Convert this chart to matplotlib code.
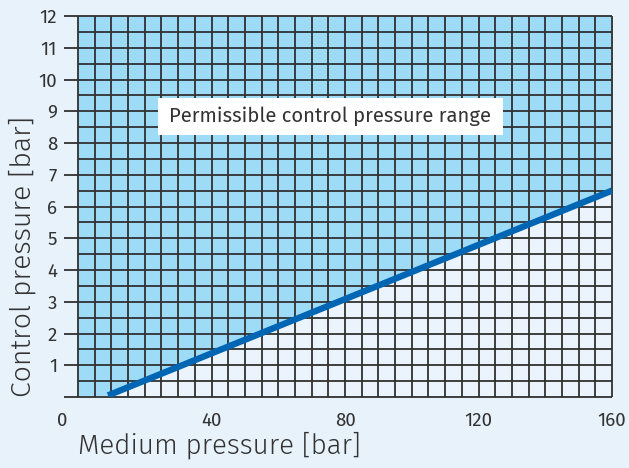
import numpy as np
import matplotlib
matplotlib.use('Agg')
import matplotlib.pyplot as plt
import matplotlib.transforms as mtrans
from matplotlib.patches import Rectangle

plt.rcParams['font.family'] = ['Fira Sans', 'DejaVu Sans']

##
## Data
##
medium_pressure = [9, 160]       # bar
control_pressure = [0.05, 6.5]   # bar
x_ticks = [0, 40, 80, 120, 160]
y_ticks = list(range(0, 13))
y_ticklabels = [''] + [str(v) for v in y_ticks[1:]]
x_max, y_max = 160, 12
x_step, y_step = 5, 0.5
range_label = 'Permissible control pressure range'

bg = '#e8f2fb'
light = '#ebf4fc'
blue_fill = '#9ddbf7'
line_blue = '#0066b3'
grid_col = '#303030'
text_col = '#333333'

fig = plt.figure(figsize=(6.29, 4.68), dpi=100, facecolor=bg)
ax = fig.add_axes([78/629, 71/468, 534/629, 381/468])
ax.set_facecolor(light)
ax.set_xlim(0, x_max)
ax.set_ylim(0, y_max)

# shaded permissible region above the limit line
xs = np.r_[0, medium_pressure]
ys = np.r_[control_pressure[0], control_pressure]
ax.fill_between(xs, ys, y_max, color=blue_fill, lw=0, zorder=1)

# fine grid
gx = np.arange(0, x_max + x_step/2, x_step)
gy = np.arange(0, y_max + y_step/2, y_step)
ax.vlines(gx, 0, y_max, color=grid_col, lw=1.3, zorder=2, clip_on=False)
ax.hlines(gy, 0, x_max, color=grid_col, lw=1.3, zorder=2, clip_on=False)

ax.plot(medium_pressure, control_pressure, color=line_blue, lw=4.6,
        solid_capstyle='butt', zorder=3)

for s in ax.spines.values():
    s.set_visible(False)

ax.set_yticks(y_ticks)
ax.set_yticklabels(y_ticklabels)
ax.set_xticks(x_ticks)
ax.set_xticklabels([str(v) for v in x_ticks])
ax.set_xticks([0, x_max], minor=True)
ax.tick_params(axis='y', which='major', length=10, width=1.3, color=grid_col,
               labelsize=13.5, labelcolor=text_col, pad=5)
ax.tick_params(axis='x', which='major', length=0, labelsize=13.5,
               labelcolor=text_col, pad=11)
ax.tick_params(axis='x', which='minor', length=10, width=1.3, color=grid_col)

# "0" sits left of the origin
lab0 = ax.get_xticklabels()[0]
lab0.set_transform(lab0.get_transform() + mtrans.ScaledTranslation(-16/100, 0, fig.dpi_scale_trans))

ax.set_xlabel('Medium pressure [bar]', loc='left', fontsize=20, fontweight=300,
              color=text_col, labelpad=1)
ax.set_ylabel('Control pressure [bar]', loc='bottom', fontsize=20.5, fontweight=300,
              color=text_col)
ax.yaxis.set_label_coords(-42/534, 0)

ax.add_patch(Rectangle((24, 8.25), 103.3, 1.17, fc='white', ec='none', zorder=4))
ax.text(75.6, 8.84, range_label, ha='center', va='center', fontsize=14.6,
        color=text_col, zorder=5)

fig.savefig('out.png', dpi=100, facecolor=bg)
